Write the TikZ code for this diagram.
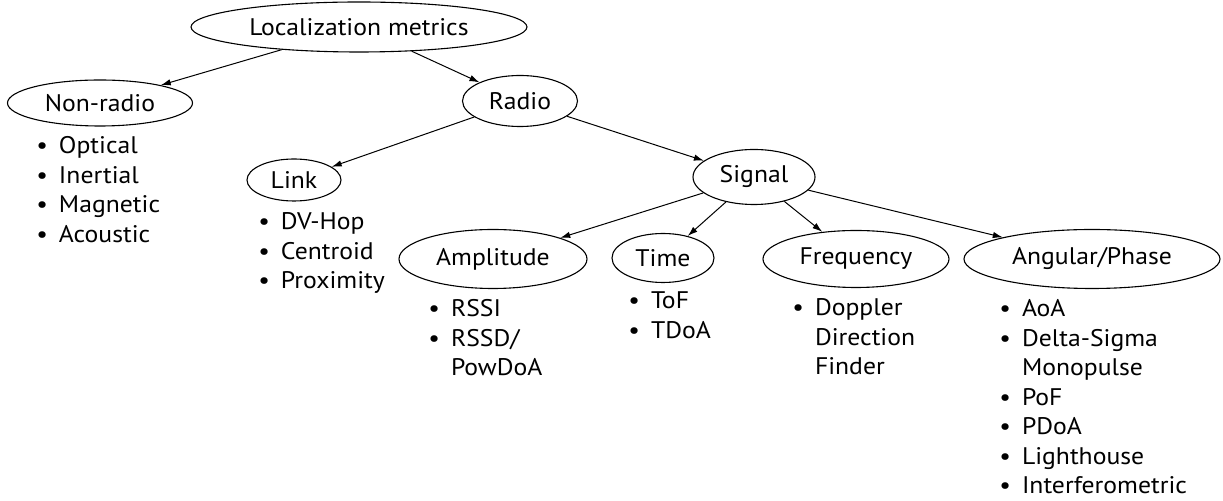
\documentclass[tikz,border=0pt]{standalone}
\usepackage{fontspec}
\setmainfont{PT Sans}[FakeStretch=1.07]
\usetikzlibrary{shapes.geometric,arrows.meta}
\newcommand\itemlist[1]{\begin{tabular}[t]{@{}l@{\hspace{5.5pt}}l@{}}#1\end{tabular}}
\begin{document}
\begin{tikzpicture}[x=0.5pt,y=-0.5pt,
  metric/.style={ellipse, draw, line width=0.55pt, inner sep=0pt,
    font=\fontsize{12}{14.75}\selectfont},
  items/.style={anchor=base west, inner sep=0pt,
    font=\fontsize{12}{14.75}\selectfont},
  edge/.style={-{Latex[length=5pt,width=3.2pt]}, line width=0.5pt}]
\useasboundingbox (0,0) rectangle (1223,501);

% category ellipses
\node[metric, minimum width=168pt, minimum height=25pt]   (loc)    at (359,27)  {Localization metrics};
\node[metric, minimum width=92.5pt, minimum height=23pt]  (nonr)   at (100,103) {Non-radio};
\node[metric, minimum width=57.5pt, minimum height=25.5pt](radio)  at (520,101) {Radio};
\node[metric, minimum width=47pt, minimum height=21pt]    (link)   at (294,180) {Link};
\node[metric, minimum width=61pt, minimum height=27.5pt]  (signal) at (754,177) {Signal};
\node[metric, minimum width=94pt, minimum height=29.5pt]  (amp)    at (493,259) {Amplitude};
\node[metric, minimum width=51pt, minimum height=24.5pt]  (time)   at (663,258) {Time};
\node[metric, minimum width=93pt, minimum height=28.5pt]  (freq)   at (856,259) {Frequency};
\node[metric, minimum width=128pt, minimum height=29.5pt](ang)    at (1092,259) {Angular/Phase};

% techniques listed under each category
\node[items] (nonrlist) at (36,154) {\itemlist{%
  \textbullet & Optical\\ \textbullet & Inertial\\ \textbullet & Magnetic\\ \textbullet & Acoustic}};
\node[items] (linklist) at (258,230) {\itemlist{%
  \textbullet & DV-Hop\\ \textbullet & Centroid\\ \textbullet & Proximity}};
\node[items] (amplist) at (428,317) {\itemlist{%
  \textbullet & RSSI\\ \textbullet & RSSD/\\ & PowDoA}};
\node[items] (timelist) at (628,309) {\itemlist{%
  \textbullet & ToF\\ \textbullet & TDoA}};
\node[items] (freqlist) at (792,316) {\itemlist{%
  \textbullet & Doppler\\ & Direction\\ & Finder}};
\node[items] (anglist) at (999,317) {\itemlist{%
  \textbullet & AoA\\ \textbullet & Delta-Sigma\\ & Monopulse\\ \textbullet & PoF\\
  \textbullet & PDoA\\ \textbullet & Lighthouse\\ \textbullet & Interferometric}};

% hierarchy
\draw[edge] (loc) -- (nonr);
\draw[edge] (loc) -- (radio);
\draw[edge] (radio) -- (link);
\draw[edge] (radio) -- (signal);
\draw[edge] (signal) -- (amp);
\draw[edge] (signal) -- (time);
\draw[edge] (signal) -- (freq);
\draw[edge] (signal) -- (ang);
\end{tikzpicture}
\end{document}
